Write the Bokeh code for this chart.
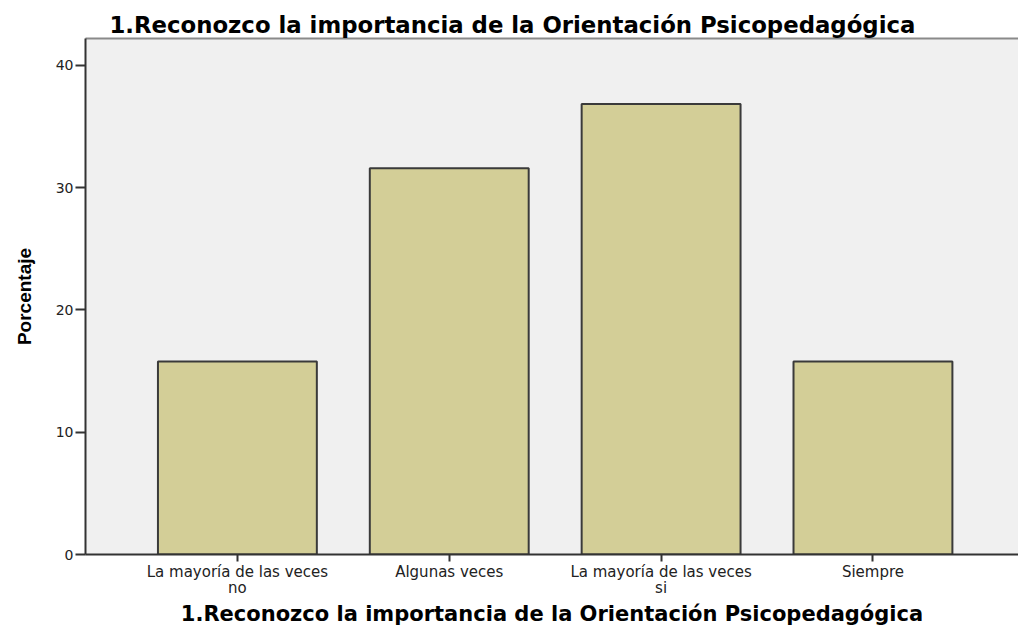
from bokeh.plotting import figure
from bokeh.models import Range1d, FixedTicker, LinearAxis, Title
from bokeh.embed import file_html
from bokeh.resources import INLINE

categories = ["La mayoría de las veces\nno", "Algunas veces", "La mayoría de las veces\nsi", "Siempre"]
percentages = [15.79, 31.58, 36.84, 15.79]
y_ticks = [0, 10, 20, 30, 40]
title_text = "1.Reconozco la importancia de la Orientación Psicopedagógica"
x_title = "1.Reconozco la importancia de la Orientación Psicopedagógica"
y_title = "Porcentaje"

xs = list(range(len(categories)))

p = figure(width=1018, height=628, output_backend="svg", toolbar_location=None,
           x_range=Range1d(-0.717, 3.687), y_range=Range1d(0, 42.2),
           min_border_left=85, min_border_top=38, min_border_bottom=20, min_border_right=0)
p.background_fill_color = "#f0f0f0"
p.border_fill_color = "white"
p.outline_line_color = None
p.xgrid.visible = False
p.ygrid.visible = False

p.vbar(x=xs, top=percentages, width=0.75, bottom=0,
       fill_color="#d3ce97", line_color="#3a3a3a", line_width=2)

# axes
xa = p.xaxis[0]
xa.ticker = FixedTicker(ticks=xs)
xa.major_label_overrides = {i: c for i, c in zip(xs, categories)}
xa.major_tick_out = 7
xa.major_tick_in = 0
xa.minor_tick_line_color = None
xa.axis_line_color = "#333333"
xa.axis_line_width = 2
xa.major_tick_line_color = "#333333"
xa.major_tick_line_width = 2
xa.major_label_text_font = "DejaVu Sans"
xa.major_label_text_font_size = "15px"
xa.major_label_text_line_height = 0.9
xa.major_label_text_color = "#222222"
xa.major_label_standoff = 1
xa.axis_label = x_title
xa.axis_label_text_font = "DejaVu Sans"
xa.axis_label_text_font_style = "bold"
xa.axis_label_text_font_size = "21px"
xa.axis_label_text_color = "#000000"
xa.axis_label_standoff = 2

ya = p.yaxis[0]
ya.ticker = FixedTicker(ticks=y_ticks)
ya.major_tick_out = 10
ya.major_tick_in = 0
ya.minor_tick_line_color = None
ya.axis_line_color = "#333333"
ya.axis_line_width = 2
ya.major_tick_line_color = "#333333"
ya.major_tick_line_width = 2
ya.major_label_text_font = "DejaVu Sans"
ya.major_label_text_font_size = "14px"
ya.major_label_text_color = "#222222"
ya.major_label_standoff = 2
ya.axis_label = y_title
ya.axis_label_text_font = "Liberation Sans"
ya.axis_label_text_font_style = "bold"
ya.axis_label_text_font_size = "19px"
ya.axis_label_text_color = "#000000"
ya.axis_label_standoff = 18

top = LinearAxis(ticker=FixedTicker(ticks=[]), major_label_text_font_size="0px",
                 major_tick_out=0, major_tick_in=0, minor_tick_out=0, minor_tick_in=0,
                 axis_line_color="#8a8a8a", axis_line_width=2)
p.add_layout(top, "above")

p.title = Title(text=title_text, text_font="DejaVu Sans", text_font_style="bold",
                text_font_size="22.8px", text_color="#000000", align="left", offset=24, standoff=2)

open("out.html", "w").write(file_html(p, INLINE))
